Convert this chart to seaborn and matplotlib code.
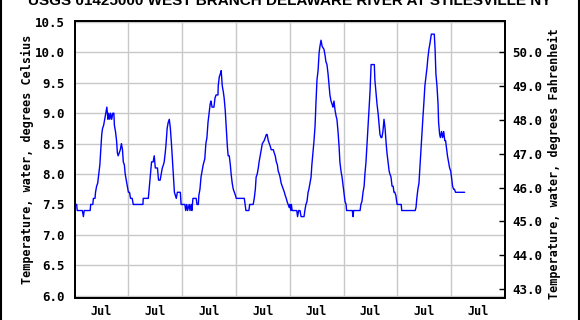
import numpy as np
import pandas as pd
import matplotlib
matplotlib.use("Agg")
import matplotlib.pyplot as plt
import matplotlib.dates as mdates
from matplotlib.lines import Line2D
import seaborn as sns

title = "USGS 01425000 WEST BRANCH DELAWARE RIVER AT STILESVILLE NY"
ylabel_c = "Temperature, water, degrees Celsius"
ylabel_f = "Temperature, water, degrees Fahrenheit"
c_ticks = [6.0, 6.5, 7.0, 7.5, 8.0, 8.5, 9.0, 9.5, 10.0, 10.5]
f_ticks = [43.0, 44.0, 45.0, 46.0, 47.0, 48.0, 49.0, 50.0]
years = [2016, 2017, 2018, 2019, 2020, 2021, 2022, 2023]
month_label = "Jul"

decimal_year = [
    2016.00, 2016.04, 2016.05, 2016.145, 2016.165, 2016.18, 2016.29, 2016.30, 2016.34, 2016.35,
    2016.38, 2016.39, 2016.41, 2016.43, 2016.45, 2016.47, 2016.49, 2016.505, 2016.52, 2016.54,
    2016.56, 2016.58, 2016.60, 2016.62, 2016.635, 2016.655, 2016.67, 2016.69, 2016.71, 2016.73,
    2016.74, 2016.76, 2016.78, 2016.795, 2016.81, 2016.83, 2016.85, 2016.87, 2016.89, 2016.905,
    2016.925, 2016.94, 2016.96, 2016.98, 2017.00, 2017.02, 2017.04, 2017.07, 2017.09, 2017.27,
    2017.275, 2017.37, 2017.39, 2017.41, 2017.43, 2017.46, 2017.48, 2017.50, 2017.54, 2017.56,
    2017.59, 2017.61, 2017.63, 2017.65, 2017.665, 2017.685, 2017.70, 2017.72, 2017.74, 2017.76,
    2017.78, 2017.80, 2017.82, 2017.835, 2017.855, 2017.89, 2017.91, 2017.93, 2017.965, 2017.98,
    2018.05, 2018.065, 2018.085, 2018.10, 2018.13, 2018.145, 2018.165, 2018.18, 2018.20, 2018.26,
    2018.275, 2018.30, 2018.31, 2018.33, 2018.35, 2018.37, 2018.39, 2018.405, 2018.42, 2018.44,
    2018.46, 2018.48, 2018.50, 2018.52, 2018.535, 2018.555, 2018.59, 2018.61, 2018.63, 2018.665,
    2018.67, 2018.69, 2018.71, 2018.725, 2018.745, 2018.765, 2018.78, 2018.80, 2018.82, 2018.84,
    2018.855, 2018.875, 2018.895, 2018.91, 2018.93, 2018.95, 2018.97, 2018.99, 2019.005, 2019.155,
    2019.17, 2019.185, 2019.24, 2019.255, 2019.32, 2019.34, 2019.36, 2019.375, 2019.395, 2019.415,
    2019.43, 2019.45, 2019.47, 2019.49, 2019.525, 2019.545, 2019.565, 2019.58, 2019.60, 2019.62,
    2019.64, 2019.655, 2019.695, 2019.71, 2019.73, 2019.75, 2019.77, 2019.785, 2019.805, 2019.82,
    2019.84, 2019.86, 2019.88, 2019.90, 2019.915, 2019.935, 2019.95, 2019.97, 2019.99, 2020.00,
    2020.02, 2020.03, 2020.045, 2020.13, 2020.145, 2020.165, 2020.19, 2020.21, 2020.265, 2020.28,
    2020.30, 2020.32, 2020.34, 2020.355, 2020.375, 2020.395, 2020.41, 2020.43, 2020.45, 2020.47,
    2020.485, 2020.505, 2020.525, 2020.545, 2020.56, 2020.58, 2020.60, 2020.635, 2020.655, 2020.67,
    2020.69, 2020.71, 2020.73, 2020.745, 2020.765, 2020.785, 2020.80, 2020.82, 2020.84, 2020.86,
    2020.875, 2020.895, 2020.915, 2020.93, 2020.95, 2020.97, 2020.99, 2021.005, 2021.025, 2021.045,
    2021.055, 2021.16, 2021.175, 2021.185, 2021.305, 2021.32, 2021.34, 2021.36, 2021.38, 2021.395,
    2021.415, 2021.435, 2021.45, 2021.47, 2021.49, 2021.51, 2021.57, 2021.58, 2021.60, 2021.62,
    2021.64, 2021.655, 2021.675, 2021.695, 2021.71, 2021.73, 2021.75, 2021.77, 2021.79, 2021.805,
    2021.825, 2021.845, 2021.86, 2021.88, 2021.90, 2021.92, 2021.935, 2021.95, 2021.97, 2021.985,
    2021.995, 2022.07, 2022.08, 2022.33, 2022.345, 2022.36, 2022.38, 2022.40, 2022.42, 2022.435,
    2022.455, 2022.475, 2022.49, 2022.51, 2022.53, 2022.55, 2022.565, 2022.585, 2022.605, 2022.63,
    2022.685, 2022.70, 2022.715, 2022.735, 2022.755, 2022.765, 2022.785, 2022.80, 2022.82, 2022.84,
    2022.86, 2022.88, 2022.895, 2022.915, 2022.93, 2022.95, 2022.97, 2022.99, 2023.005, 2023.025,
    2023.045, 2023.06, 2023.08, 2023.25,
]
temp_c = [
    7.5, 7.5, 7.4, 7.4, 7.3, 7.4, 7.4, 7.5, 7.5, 7.6,
    7.6, 7.7, 7.8, 7.85, 8.0, 8.15, 8.45, 8.65, 8.75, 8.8,
    8.9, 9.0, 9.1, 8.9, 9.0, 8.9, 9.0, 8.9, 9.0, 9.0,
    8.8, 8.7, 8.55, 8.35, 8.3, 8.35, 8.4, 8.5, 8.4, 8.2,
    8.15, 8.0, 7.9, 7.8, 7.7, 7.7, 7.6, 7.6, 7.5, 7.5,
    7.6, 7.6, 7.8, 8.0, 8.2, 8.2, 8.3, 8.1, 8.1, 7.9,
    7.9, 8.0, 8.1, 8.15, 8.2, 8.35, 8.5, 8.75, 8.85, 8.9,
    8.75, 8.5, 8.2, 7.95, 7.7, 7.6, 7.7, 7.7, 7.7, 7.5,
    7.5, 7.4, 7.5, 7.4, 7.5, 7.4, 7.5, 7.4, 7.6, 7.6,
    7.5, 7.5, 7.65, 7.75, 7.95, 8.05, 8.15, 8.2, 8.25, 8.5,
    8.6, 8.85, 9.0, 9.15, 9.2, 9.1, 9.1, 9.25, 9.3, 9.3,
    9.45, 9.6, 9.65, 9.7, 9.45, 9.35, 9.25, 9.05, 8.75, 8.45,
    8.3, 8.3, 8.15, 8.0, 7.85, 7.75, 7.7, 7.65, 7.6, 7.6,
    7.5, 7.4, 7.4, 7.5, 7.5, 7.6, 7.75, 7.95, 8.0, 8.1,
    8.2, 8.3, 8.4, 8.5, 8.55, 8.6, 8.65, 8.65, 8.55, 8.5,
    8.45, 8.4, 8.4, 8.35, 8.3, 8.2, 8.15, 8.05, 8.0, 7.95,
    7.85, 7.8, 7.75, 7.7, 7.65, 7.6, 7.55, 7.5, 7.45, 7.5,
    7.4, 7.5, 7.4, 7.4, 7.3, 7.4, 7.4, 7.3, 7.3, 7.4,
    7.5, 7.55, 7.7, 7.75, 7.85, 7.95, 8.15, 8.35, 8.55, 8.8,
    9.15, 9.55, 9.7, 10.0, 10.1, 10.2, 10.1, 10.05, 9.95, 9.85,
    9.8, 9.65, 9.45, 9.3, 9.2, 9.15, 9.1, 9.2, 9.05, 8.95,
    8.9, 8.7, 8.45, 8.2, 8.05, 7.95, 7.8, 7.7, 7.55, 7.5,
    7.4, 7.4, 7.3, 7.4, 7.4, 7.5, 7.55, 7.7, 7.8, 8.0,
    8.2, 8.5, 8.75, 9.05, 9.35, 9.8, 9.8, 9.55, 9.35, 9.15,
    9.0, 8.85, 8.65, 8.6, 8.6, 8.7, 8.9, 8.75, 8.5, 8.35,
    8.2, 8.05, 8.0, 7.95, 7.8, 7.8, 7.7, 7.7, 7.65, 7.55,
    7.5, 7.5, 7.4, 7.4, 7.45, 7.6, 7.75, 7.85, 8.15, 8.35,
    8.7, 8.95, 9.15, 9.45, 9.6, 9.75, 9.9, 10.05, 10.15, 10.3,
    10.3, 10.05, 9.65, 9.45, 9.15, 8.85, 8.65, 8.6, 8.7, 8.6,
    8.7, 8.55, 8.55, 8.4, 8.3, 8.2, 8.1, 8.05, 7.95, 7.8,
    7.75, 7.75, 7.7, 7.7,
]


def to_timestamp(f):
    y = int(np.floor(f))
    start = pd.Timestamp(y, 1, 1)
    end = pd.Timestamp(y + 1, 1, 1)
    return start + (end - start) * (f - y)


df = pd.DataFrame({"date": [to_timestamp(v) for v in decimal_year], "temp": temp_c})

sns.set_style("white")
plt.rcParams["font.family"] = ["DejaVu Sans Mono", "DejaVu Sans"]
plt.rcParams["text.color"] = "black"

W, H = 580, 320
fig = plt.figure(figsize=(W / 100, H / 100), dpi=100)
left, right, top, bottom = 74.5, 505.0, 20.7, 297.7
ax = fig.add_axes([left / W, 1 - bottom / H, (right - left) / W, (bottom - top) / H])

sns.lineplot(data=df, x="date", y="temp", ax=ax, color="#0000ff", linewidth=1.0,
             sort=False, estimator=None)

ylo, yhi = 5.967, 10.521
ax.set_xlim(pd.Timestamp(years[0], 1, 1), pd.Timestamp(years[-1] + 1, 1, 1))
ax.set_ylim(ylo, yhi)
ax.set_yticks(c_ticks)
ax.set_yticklabels([f"{v:.1f}" for v in c_ticks], fontweight="bold", fontsize=9)
ax.set_xticks([pd.Timestamp(y, 1, 1) for y in years[1:]])
ax.set_xticklabels([])
ax.set_xticks([pd.Timestamp(y, 7, 1) for y in years], minor=True)
ax.set_xticklabels([month_label] * len(years), minor=True, fontweight="bold", fontsize=8.5)
ax.tick_params(axis="y", which="both", length=0, pad=7, colors="black")
ax.tick_params(axis="x", which="both", length=0, pad=5, colors="black")
ax.grid(True, which="major", color="#c8c8c8", linewidth=1.0)
ax.set_axisbelow(True)
ax.set_xlabel("")
ax.set_ylabel("")
for s in ax.spines.values():
    s.set_color("black")
    s.set_linewidth(1.3)

ax2 = ax.twinx()
ax2.set_ylim(ylo * 1.8 + 32, yhi * 1.8 + 32)
ax2.set_yticks(f_ticks)
ax2.set_yticklabels([f"{v:.1f}" for v in f_ticks], fontweight="bold", fontsize=9)
ax2.tick_params(axis="y", direction="in", length=4, width=1, pad=5, colors="black")
ax2.grid(False)
for s in ax2.spines.values():
    s.set_color("black")
    s.set_linewidth(1.3)

fig.text(27 / W, 1 - 159 / H, ylabel_c, rotation=90, ha="center", va="center",
         fontsize=8.5, fontweight="bold", color="black")
fig.text(554 / W, 1 - 163.5 / H, ylabel_f, rotation=90, ha="center", va="center",
         fontsize=8.5, fontweight="bold", color="black")
fig.text(0.5, 1 - 5 / H, title, ha="center", va="baseline", fontsize=11,
         fontweight="bold", color="black", family=["Liberation Sans", "DejaVu Sans"])

fig.add_artist(Line2D([1 / W, 1 / W], [0, 1], transform=fig.transFigure, color="black", lw=1.5))
fig.add_artist(Line2D([579 / W, 579 / W], [0, 1], transform=fig.transFigure, color="black", lw=1.5))

fig.savefig("out.png", dpi=100)
